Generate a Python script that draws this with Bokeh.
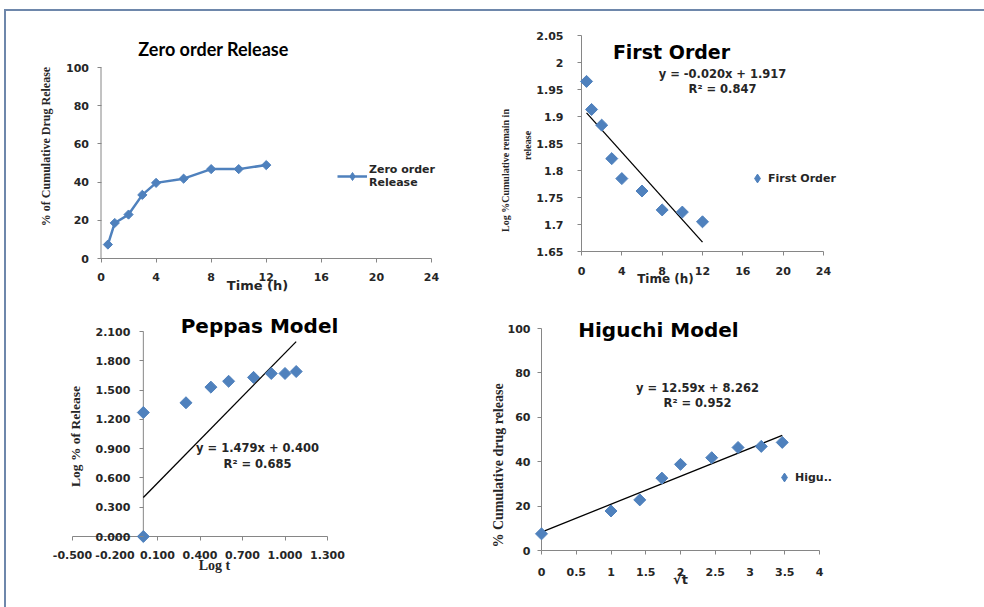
import math
from bokeh.plotting import figure
from bokeh.layouts import row, column
from bokeh.models import (Range1d, FixedTicker, CustomJSTickFormatter, Label,
                          Legend, LegendItem)
from bokeh.embed import file_html
from bokeh.resources import INLINE

# ---------------- data ----------------
time_h = [0.5, 1, 2, 3, 4, 6, 8, 10, 12]
zero_release = [7.3, 18.6, 23.0, 33.3, 39.6, 41.8, 46.8, 46.8, 48.9]

first_log_remain = [1.965, 1.913, 1.884, 1.822, 1.785, 1.762, 1.727, 1.723, 1.705]
first_fit = (-0.0208, 1.917)
first_eq = ["y = -0.020x + 1.917", "R² = 0.847"]

peppas_log_t = [0.0, 0.0, 0.301, 0.477, 0.602, 0.778, 0.903, 1.0, 1.079]
peppas_log_rel = [0.0, 1.27, 1.37, 1.53, 1.59, 1.63, 1.67, 1.67, 1.69]
peppas_fit = (1.479, 0.400)
peppas_eq = ["y = 1.479x + 0.400", "R² = 0.685"]

higuchi_sqrt_t = [0.0, 1.0, 1.414, 1.732, 2.0, 2.449, 2.828, 3.162, 3.464]
higuchi_release = [7.5, 17.8, 22.8, 32.6, 38.8, 41.8, 46.4, 46.9, 48.7]
higuchi_fit = (12.59, 8.262)
higuchi_eq = ["y = 12.59x + 8.262", "R² = 0.952"]

x_ticks_time = [0, 4, 8, 12, 16, 20, 24]
y_ticks_zero = [0, 20, 40, 60, 80, 100]
y_ticks_first = [1.65, 1.7, 1.75, 1.8, 1.85, 1.9, 1.95, 2.0, 2.05]
x_ticks_peppas = [-0.5, -0.2, 0.1, 0.4, 0.7, 1.0, 1.3]
y_ticks_peppas = [0.0, 0.3, 0.6, 0.9, 1.2, 1.5, 1.8, 2.1]
x_ticks_higuchi = [0, 0.5, 1, 1.5, 2, 2.5, 3, 3.5, 4]
y_ticks_higuchi = [0, 20, 40, 60, 80, 100]

# ---------------- style ----------------
BLUE = "#4F81BD"
AXIS = "#868686"
TXT = "#262626"
FONT = "DejaVu Sans"
SERIF = "Liberation Serif"
BORDER = "#6E87AB"
NAN = float("nan")

fmt_general = CustomJSTickFormatter(code="return Number(tick.toFixed(2)).toString();")
fmt_three = CustomJSTickFormatter(code="return tick.toFixed(3);")


class Panel:
    """A figure whose frame fills the whole figure; axes are placed inside it."""

    def __init__(self, left, top, w, h, xcal, ycal, cross,
                 xticks, yticks, xfmt, yfmt, xstand, ystand):
        # xcal/ycal: (value0, page_px0, value1, page_px1)
        self.left, self.top, self.w, self.h = left, top, w, h
        self.xcal, self.ycal = xcal, ycal
        x_start, x_end = self.vx(left), self.vx(left + w)
        y_start, y_end = self.vy(top + h), self.vy(top)
        p = figure(x_range=Range1d(x_start, x_end), y_range=Range1d(y_start, y_end),
                   frame_width=w, frame_height=h,
                   min_border_left=0, min_border_right=0,
                   min_border_top=0, min_border_bottom=0,
                   output_backend="svg", toolbar_location=None)
        p.xgrid.visible = False
        p.ygrid.visible = False
        p.outline_line_color = None
        p.background_fill_color = "white"
        p.border_fill_color = "white"
        p.yaxis.fixed_location = cross[0]
        p.xaxis.fixed_location = cross[1]
        p.xaxis.ticker = FixedTicker(ticks=xticks)
        p.yaxis.ticker = FixedTicker(ticks=yticks)
        p.xaxis.formatter = xfmt
        p.yaxis.formatter = yfmt
        for ax in (p.xaxis[0], p.yaxis[0]):
            ax.axis_line_color = None
            ax.major_tick_line_color = AXIS
            ax.minor_tick_line_color = None
            ax.major_tick_in = 0
            ax.major_tick_out = 4
            ax.major_label_text_font = FONT
            ax.major_label_text_font_style = "bold"
            ax.major_label_text_font_size = "11px"
            ax.major_label_text_color = TXT
        p.xaxis.major_label_standoff = xstand
        p.yaxis.major_label_standoff = ystand
        # axis rules spanning the first to last tick
        p.line([xticks[0], xticks[-1]], [cross[1], cross[1]], line_color=AXIS, line_width=1)
        p.line([cross[0], cross[0]], [yticks[0], yticks[-1]], line_color=AXIS, line_width=1)
        self.p = p

    def vx(self, px):
        v0, p0, v1, p1 = self.xcal
        return v0 + (px - p0) * (v1 - v0) / (p1 - p0)

    def vy(self, py):
        v0, p0, v1, p1 = self.ycal
        return v0 + (py - p0) * (v1 - v0) / (p1 - p0)

    def text(self, px, py, text, size, font=FONT, bold=True, angle=0.0,
             color=TXT):
        self.p.add_layout(Label(x=self.vx(px), y=self.vy(py), text=text,
                                text_align="center", text_baseline="middle",
                                text_font=font, text_font_size=size,
                                text_font_style="bold" if bold else "normal",
                                text_color=color, angle=angle))

    def diamonds(self, x, y, size=8.5):
        return self.p.scatter(x, y, marker="square", angle=math.pi / 4, size=size,
                              fill_color=BLUE, line_color=BLUE)

    def legend_marker(self):
        return self.p.scatter([NAN], [NAN], marker="diamond",
                              fill_color=BLUE, line_color=BLUE)

    def legend(self, label, renderers, glyph_left, glyph_cy, gw, gh, standoff=0):
        loc = (glyph_left - self.left, self.top + self.h - (glyph_cy + gh / 2))
        leg = Legend(items=[LegendItem(label=label, renderers=renderers)],
                     location=loc, border_line_color=None, background_fill_alpha=0,
                     padding=0, margin=0, spacing=0, label_standoff=standoff,
                     glyph_width=gw, glyph_height=gh,
                     label_text_font=FONT, label_text_font_size="11px",
                     label_text_font_style="bold",
                     label_text_color=TXT, label_height=12)
        self.p.add_layout(leg)


# ---------------- panel 1: Zero order ----------------
a = Panel(6, 11, 486, 294, (0, 100.5, 24, 431), (0, 258, 100, 67), (0, 0),
          x_ticks_time, y_ticks_zero, fmt_general, fmt_general, 10, 8)
l1 = a.p.line(time_h, zero_release, line_color=BLUE, line_width=2.5)
a.diamonds(time_h, zero_release, size=6.5)
a.legend("Zero order\nRelease", [l1, a.legend_marker()], 337, 179, 30, 20, standoff=2)
a.text(213, 48, "Zero order Release", "18px", font="Lato", color="black")
a.text(257, 285, "Time (h)", "13px")
a.text(45, 146, "% of Cumulative Drug Release", "12px", font=SERIF, angle=math.pi / 2)

# ---------------- panel 2: First order ----------------
b = Panel(492, 11, 492, 294, (0, 581, 24, 823), (1.65, 251, 2.05, 35), (0, 1.65),
          x_ticks_time, y_ticks_first, fmt_general, fmt_general, 11, 14)
fx = [time_h[0], time_h[-1]]
b.p.line(fx, [first_fit[0] * v + first_fit[1] for v in fx], line_color="black", line_width=1.3)
b.diamonds(time_h, first_log_remain)
b.legend("First Order", [b.legend_marker()], 746, 178, 22, 26)
b.text(671, 51, "First Order", "19px", color="black")
b.text(722, 73, first_eq[0], "11.5px")
b.text(722, 88, first_eq[1], "11.5px")
b.text(665, 278, "Time (h)", "12px")
b.text(505, 170, "Log %Cumulative remain in", "10px", font=SERIF, angle=math.pi / 2)
b.text(527, 145, "release", "10px", font=SERIF, angle=math.pi / 2)

# ---------------- panel 3: Peppas ----------------
c = Panel(6, 305, 486, 302, (-0.5, 72, 1.3, 327), (0, 536, 2.1, 331), (0, 0),
          x_ticks_peppas, y_ticks_peppas, fmt_three, fmt_three, 10, 9)
px = [0.0, peppas_log_t[-1]]
c.p.line(px, [peppas_fit[0] * v + peppas_fit[1] for v in px], line_color="black", line_width=1.3)
c.diamonds(peppas_log_t, peppas_log_rel)
c.text(259, 325, "Peppas Model", "20px", color="black")
c.text(257, 447, peppas_eq[0], "11.5px")
c.text(257, 463, peppas_eq[1], "11.5px")
c.text(214, 565, "Log t", "14px", font=SERIF)
c.text(75, 436, "Log % of Release", "13.5px", font=SERIF, angle=math.pi / 2)

# ---------------- panel 4: Higuchi ----------------
d = Panel(492, 305, 492, 302, (0, 541, 4, 819), (0, 550, 100, 328), (0, 0),
          x_ticks_higuchi, y_ticks_higuchi, fmt_general, fmt_general, 13, 7)
hx = [0.0, higuchi_sqrt_t[-1]]
d.p.line(hx, [higuchi_fit[0] * v + higuchi_fit[1] for v in hx], line_color="black", line_width=1.3)
d.diamonds(higuchi_sqrt_t, higuchi_release)
d.legend("Higu..", [d.legend_marker()], 773, 477, 22, 26)
d.text(658, 329, "Higuchi Model", "20px", color="black")
d.text(697, 387, higuchi_eq[0], "11.5px")
d.text(697, 402, higuchi_eq[1], "11.5px")
d.text(680, 579, "√t", "13px")
d.text(498, 465, "% Cumulative drug release", "14px", font=SERIF, angle=math.pi / 2)

layout = column(row(a.p, b.p), row(c.p, d.p), margin=(9, 0, 0, 4),
                styles={"border-top": "2px solid " + BORDER,
                        "border-left": "2px solid " + BORDER})

open("out.html", "w").write(file_html(layout, INLINE))
